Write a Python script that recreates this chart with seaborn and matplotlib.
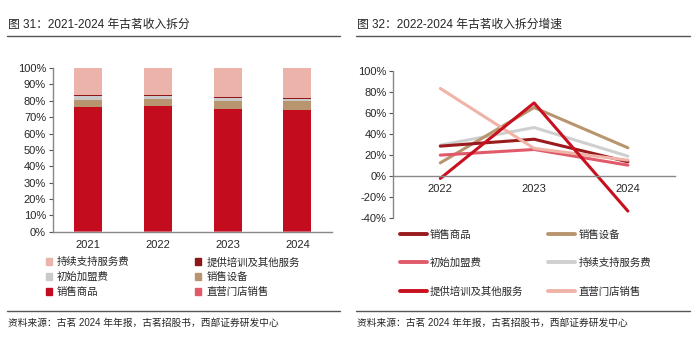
import seaborn as sns
import pandas as pd
import matplotlib.pyplot as plt
import numpy as np
from matplotlib.patches import Patch
from matplotlib.lines import Line2D

# revenue mix (%), 2021-2024
years = ["2021", "2022", "2023", "2024"]
store_sales = [0.3, 0.3, 0.3, 0.3]      # 直营门店销售
goods = [76.0, 76.6, 74.7, 74.1]        # 销售商品
equipment = [4.2, 4.0, 4.7, 5.3]        # 销售设备
join_fee = [2.2, 2.0, 1.8, 1.4]         # 初始加盟费
training = [1.0, 0.8, 1.0, 0.8]         # 提供培训及其他服务
support = [16.3, 16.3, 17.5, 18.1]      # 持续支持服务费

# growth (%), 2022-2024
g_years = ["2022", "2023", "2024"]
g_goods = [28.4, 35.0, 13.4]
g_equipment = [12.4, 65.3, 26.8]
g_join_fee = [19.8, 25.2, 10.2]
g_support = [29.3, 46.2, 18.8]
g_training = [-2.5, 69.7, -33.7]
g_store = [83.5, 26.2, 15.0]

sns.set_style("white")
plt.rcParams['font.family'] = ['Liberation Sans', 'Noto Sans CJK SC', 'DejaVu Sans']
plt.rcParams['axes.unicode_minus'] = False

c_support = "#EBB3A9"
c_training = "#8E1518"
c_join = "#C9C9C9"
c_equip = "#B8956E"
c_goods = "#C30D1E"
c_store = "#E25A6A"

fig = plt.figure(figsize=(7, 3.56), dpi=100)

# ---- left: stacked bars
ax1 = fig.add_axes([0.0757, 0.349, 0.399, 0.460])
df = pd.DataFrame({"year": years, "store": store_sales, "goods": goods, "equip": equipment,
                   "join": join_fee, "train": training, "support": support})
order = ["store", "goods", "equip", "join", "train", "support"]
colors = [c_store, c_goods, c_equip, c_join, c_training, c_support]
cum = df[order].cumsum(axis=1)
for col, colr in list(zip(order, colors))[::-1]:
    sns.barplot(x=df["year"], y=cum[col], color=colr, width=0.4, saturation=1,
                ax=ax1, edgecolor="none")
ax1.set_xlim(-0.5, 3.5)
ax1.set_ylim(0, 100)
ax1.set_yticks(np.arange(0, 101, 10))
ax1.set_yticklabels([f"{v}%" for v in range(0, 101, 10)])
ax1.set_xlabel("")
ax1.set_ylabel("")
ax1.set_xticks([0.5, 1.5, 2.5, 3.5], minor=True)
ax1.tick_params(axis="x", which="major", length=0, labelsize=8, pad=6)
ax1.tick_params(axis="x", which="minor", length=3, direction="in", color="#555555")
ax1.tick_params(axis="y", length=3, direction="out", left=True, labelsize=8, color="#555555", pad=2)
for s in ["top", "right"]:
    ax1.spines[s].set_visible(False)
for s in ["left", "bottom"]:
    ax1.spines[s].set_color("#888888")
    ax1.spines[s].set_linewidth(1)

h1 = [Patch(color=c_support), Patch(color=c_join), Patch(color=c_goods),
      Patch(color=c_training), Patch(color=c_equip), Patch(color=c_store)]
l1 = ["持续支持服务费", "初始加盟费", "销售商品", "提供培训及其他服务", "销售设备", "直营门店销售"]
fig.legend(h1, l1, ncol=2, loc="upper left", bbox_to_anchor=(0.065, 0.278), frameon=False,
           fontsize=7.5, handlelength=0.6, handleheight=0.6, handletextpad=0.5,
           columnspacing=6.3, labelspacing=0.45, borderaxespad=0, borderpad=0)

# ---- right: growth lines
ax2 = fig.add_axes([0.562, 0.3885, 0.402, 0.4115])
gdf = pd.DataFrame({"year": g_years, "销售商品": g_goods, "销售设备": g_equipment,
                    "初始加盟费": g_join_fee, "持续支持服务费": g_support,
                    "提供培训及其他服务": g_training, "直营门店销售": g_store})
long = gdf.melt(id_vars="year", var_name="item", value_name="growth")
line_pal = {"销售商品": "#9A1B1E", "销售设备": "#B8956E", "初始加盟费": "#E05A6A",
            "持续支持服务费": "#CFCFCF", "提供培训及其他服务": "#C8101E", "直营门店销售": "#F0B3A8"}
draw_order = ["持续支持服务费", "销售设备", "销售商品", "初始加盟费", "直营门店销售", "提供培训及其他服务"]
for name in draw_order:
    sub = long[long["item"] == name]
    sns.lineplot(x=sub["year"], y=sub["growth"], color=line_pal[name], lw=2.2, ax=ax2,
                 sort=False)
ax2.set_xlim(-0.5, 2.5)
ax2.set_ylim(-40, 100)
ax2.set_yticks(np.arange(-40, 101, 20))
ax2.set_yticklabels([f"{v}%" for v in range(-40, 101, 20)])
ax2.set_xlabel("")
ax2.set_ylabel("")
ax2.spines["bottom"].set_position(("data", 0))
ax2.set_xticks([0.5, 1.5, 2.5], minor=True)
ax2.tick_params(axis="x", which="major", length=0, labelsize=8, pad=6)
ax2.tick_params(axis="x", which="minor", length=3, direction="in", color="#555555")
ax2.tick_params(axis="y", length=3, direction="out", left=True, labelsize=8, color="#555555", pad=2)
for s in ["top", "right"]:
    ax2.spines[s].set_visible(False)
for s in ["left", "bottom"]:
    ax2.spines[s].set_color("#888888")
    ax2.spines[s].set_linewidth(1)

l2 = ["销售商品", "初始加盟费", "提供培训及其他服务", "销售设备", "持续支持服务费", "直营门店销售"]
h2 = [Line2D([], [], color=line_pal[n], lw=2.8) for n in l2]
fig.legend(h2, l2, ncol=2, loc="upper left", bbox_to_anchor=(0.571, 0.355), frameon=False,
           fontsize=7.5, handlelength=2.6, handletextpad=0.3,
           columnspacing=2.4, labelspacing=1.75, borderaxespad=0, borderpad=0)

# ---- titles, rules and source
fig.text(8 / 700, 1 - 25 / 356, "图 31：2021-2024 年古茗收入拆分", fontsize=8.5, va="center")
fig.text(357 / 700, 1 - 25 / 356, "图 32：2022-2024 年古茗收入拆分增速", fontsize=8.5, va="center")
for x0, x1 in [(7, 340), (356, 690)]:
    fig.add_artist(Line2D([x0 / 700, x1 / 700], [1 - 36 / 356] * 2, color="#555555", lw=1))
    fig.add_artist(Line2D([x0 / 700, x1 / 700], [1 - 311 / 356] * 2, color="#555555", lw=1))
src = "资料来源：古茗 2024 年年报，古茗招股书，西部证券研发中心"
fig.text(8 / 700, 1 - 323 / 356, src, fontsize=7, va="center")
fig.text(357 / 700, 1 - 323 / 356, src, fontsize=7, va="center")

plt.savefig("out.png", dpi=100)
